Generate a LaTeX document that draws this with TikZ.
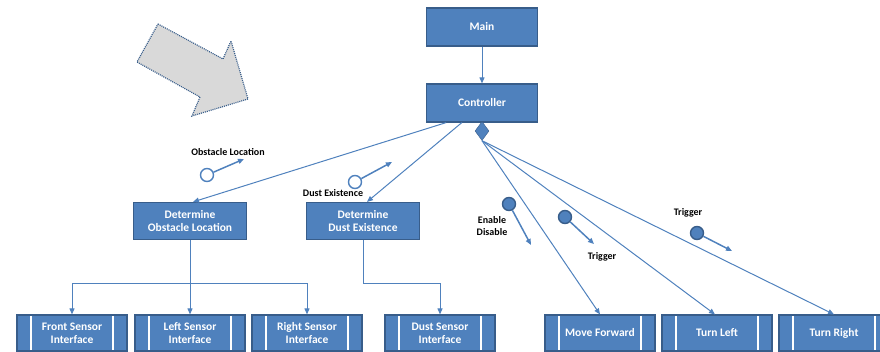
\documentclass[tikz,border=0pt]{standalone}
\usepackage{fontspec}
\setmainfont{Carlito}
\usetikzlibrary{arrows.meta, shapes.geometric, calc}
\definecolor{boxblue}{HTML}{4F81BD}
\definecolor{boxedge}{HTML}{385D8A}
\definecolor{shade}{HTML}{D9D9D9}
\tikzset{
  blk/.style={draw=boxedge, fill=boxblue, text=white, align=center,
              font=\bfseries\fontsize{11.5}{13}\selectfont,
              minimum width=111pt, minimum height=38pt, inner sep=1pt, line width=1.2pt},
  ifc/.style={blk, minimum width=110pt, minimum height=36pt,
              path picture={
                \draw[white, line width=1.6pt]
                  ([xshift=14pt]path picture bounding box.north west) -- ([xshift=14pt]path picture bounding box.south west)
                  ([xshift=-14pt]path picture bounding box.north east) -- ([xshift=-14pt]path picture bounding box.south east);}},
  arr/.style={-{Triangle[length=6pt,width=5pt]}, draw=boxblue, line width=1pt},
  lne/.style={draw=boxblue, line width=1pt},
  lbl/.style={font=\bfseries\fontsize{10}{12}\selectfont, align=center, inner sep=0pt},
  flag/.style={circle, draw=boxblue, fill=white, line width=1.4pt, minimum size=13pt, inner sep=0pt},
  flagf/.style={flag, draw=boxedge, fill=boxblue},
}
\begin{document}
\begin{tikzpicture}[x=1pt, y=-1pt]
  \useasboundingbox (0,0) rectangle (880,351);
  \clip (0,0) rectangle (880,351);
  % hint arrow
  \draw[boxedge, fill=shade, line width=1.2pt, dash pattern=on 1pt off 1pt]
    (158,24) -- (223,59) -- (231,41) -- (248,99) -- (192,116) -- (200,97) -- (137,62) -- cycle;
  % top
  \node[blk] (main) at (482,27) {Main};
  \node[blk] (ctl) at (482,103) {Controller};
  \node[diamond, draw=boxedge, fill=boxblue, minimum width=14pt, minimum height=19pt, inner sep=0pt] (dia) at (482,131) {};
  \draw[arr] (main) -- (ctl);
  % middle
  \node[blk, minimum width=113pt, minimum height=37pt] (obs) at (190,221) {Determine\\Obstacle Location};
  \node[blk, minimum width=113pt, minimum height=37pt] (dst) at (363,221) {Determine\\Dust Existence};
  \draw[arr] ($(ctl.south west)!0.18!(ctl.south east)$) -- ([xshift=3pt]obs.north);
  \draw[arr] ($(ctl.south west)!0.32!(ctl.south east)$) -- ([xshift=4pt]dst.north);
  % bottom
  \node[ifc] (front) at (72,333) {Front Sensor\\Interface};
  \node[ifc] (left) at (190,333) {Left Sensor\\Interface};
  \node[ifc] (right) at (307,333) {Right Sensor\\Interface};
  \node[ifc] (dsi) at (440,333) {Dust Sensor\\Interface};
  \node[ifc] (fwd) at (600,333) {Move Forward};
  \node[ifc] (tl) at (717,333) {Turn Left};
  \node[ifc] (tr) at (834,333) {Turn Right};
  % obstacle branch
  \draw[lne] (obs.south) -- ++(0,43) coordinate (obsj);
  \draw[lne] (obsj -| front.north) -- (obsj -| right.north);
  \draw[arr] (obsj -| front.north) -- (front.north);
  \draw[arr] (obsj) -- (left.north);
  \draw[arr] (obsj -| right.north) -- (right.north);
  % dust branch
  \draw[lne] (dst.south) -- ++(0,43) coordinate (dstj);
  \draw[lne] (dstj) -- (dstj -| dsi.north);
  \draw[arr] (dstj -| dsi.north) -- (dsi.north);
  % actuators
  \draw[arr] (dia.south) -- (fwd.north);
  \draw[arr] (dia.south) -- ([xshift=-2pt]tl.north);
  \draw[arr] (dia.south) -- (tr.north);
  % data flags
  \node[lbl] (oll) at (228,152) {Obstacle Location};
  \node[flag] (olf) at (207,175) {};
  \coordinate (olt) at (244,159);
  \draw[arr, line width=1.5pt] (olf) -- (olt);
  \node[lbl] (del) at (333,193) {Dust Existence};
  \node[flag] (def) at (355,182) {};
  \coordinate (det) at (392,162);
  \draw[arr, line width=1.5pt] (def) -- (det);
  \node[lbl] (enl) at (492,226) {Enable\\Disable};
  \node[flagf] (enf) at (509,204) {};
  \coordinate (ent) at (531,245);
  \draw[arr, line width=1.5pt] (enf) -- (ent);
  \node[lbl] (t1l) at (602,257) {Trigger};
  \node[flagf] (t1f) at (565,217) {};
  \coordinate (t1t) at (594,244);
  \draw[arr, line width=1.5pt] (t1f) -- (t1t);
  \node[lbl] (t2l) at (688,213) {Trigger};
  \node[flagf] (t2f) at (697,233) {};
  \coordinate (t2t) at (732,251);
  \draw[arr, line width=1.5pt] (t2f) -- (t2t);
\end{tikzpicture}
\end{document}
